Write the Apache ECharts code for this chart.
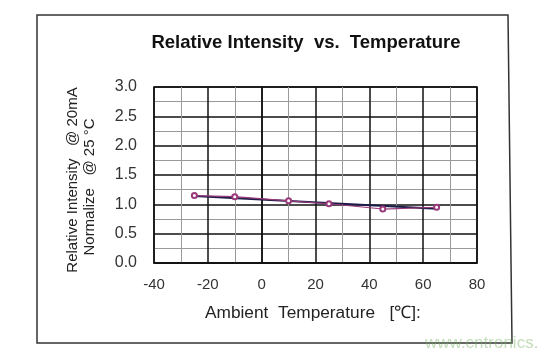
<!DOCTYPE html>
<html><head><meta charset="utf-8">
<script src="https://cdn.jsdelivr.net/npm/echarts@6/dist/echarts.min.js"></script>
<style>html,body{margin:0;padding:0;background:#fff}#c{width:538px;height:357px}</style>
</head><body><div id="c"></div>
<script>
const temperatures = [-25, -10, 10, 25, 45, 65];
const intensity = [1.15, 1.13, 1.06, 1.01, 0.92, 0.95];
const trendTemps = [-25, 65];
const trendValues = [1.14, 0.925];
const xTicks = [-40, -20, 0, 20, 40, 60, 80];
const yTicks = [0.0, 0.5, 1.0, 1.5, 2.0, 2.5, 3.0];

const chart = echarts.init(document.getElementById('c'));
const font = 'Liberation Sans, Arial, sans-serif';
chart.setOption({
  animation: false,
  backgroundColor: '#fff',
  title: {
    text: 'Relative Intensity  vs.  Temperature',
    left: 301, top: 28, textAlign: 'center',
    textStyle: { fontFamily: font, fontSize: 18.5, fontWeight: 'bold', color: '#111' }
  },
  grid: { left: 154, right: 61, top: 87, bottom: 94, show: true, borderColor: '#111', borderWidth: 1.5, backgroundColor: 'transparent' },
  xAxis: {
    type: 'value', min: xTicks[0], max: xTicks[xTicks.length - 1], interval: 20,
    axisLine: { show: true, lineStyle: { color: '#111', width: 1.5 } },
    axisTick: { show: false },
    axisLabel: { margin: 14, fontFamily: font, fontSize: 15, color: '#333', formatter: v => String(v) },
    splitLine: { show: true, lineStyle: { color: '#111', width: 1.5 } },
    minorTick: { show: false, splitNumber: 2 },
    minorSplitLine: { show: true, lineStyle: { color: '#999', width: 1 } }
  },
  yAxis: {
    type: 'value', min: yTicks[0], max: yTicks[yTicks.length - 1], interval: 0.5,
    axisLine: { show: true, lineStyle: { color: '#111', width: 1.5 } },
    axisTick: { show: false },
    axisLabel: { margin: 17, fontFamily: font, fontSize: 16, color: '#333', formatter: v => v.toFixed(1) },
    splitLine: { show: true, lineStyle: { color: '#111', width: 1.5 } },
    minorTick: { show: false, splitNumber: 2 },
    minorSplitLine: { show: true, lineStyle: { color: '#999', width: 1 } }
  },
  series: [
    {
      type: 'line', data: trendTemps.map((t, i) => [t, trendValues[i]]),
      symbol: 'none', lineStyle: { color: '#1c1c4a', width: 2 }, z: 3, silent: true
    },
    {
      type: 'line', data: temperatures.map((t, i) => [t, intensity[i]]),
      symbol: 'emptyCircle', symbolSize: 5,
      itemStyle: { color: '#9a3a7a', borderWidth: 1 },
      lineStyle: { color: '#9a3a7a', width: 1.2 }, z: 4
    }
  ],
  graphic: [
    { type: 'polygon', shape: { points: [[37, 15], [508, 15], [512, 343], [37, 343]] },
      style: { fill: 'none', stroke: '#333', lineWidth: 1.5 }, z: -1 },
    { type: 'text', x: 73, y: 180, rotation: Math.PI / 2, originX: 0, originY: 0,
      style: { text: 'Relative Intensity   @ 20mA', fontFamily: font, fontSize: 15, fill: '#222', align: 'center', verticalAlign: 'middle' } },
    { type: 'text', x: 90, y: 187, rotation: Math.PI / 2, originX: 0, originY: 0,
      style: { text: 'Normalize   @ 25 °C', fontFamily: font, fontSize: 15, fill: '#222', align: 'center', verticalAlign: 'middle' } },
    { type: 'text', x: 205, y: 313,
      style: { text: 'Ambient  Temperature   [℃]:', fontFamily: font, fontSize: 17.3, fill: '#222', align: 'left', verticalAlign: 'middle' } },
    { type: 'text', x: 425, y: 343,
      style: { text: 'www.cntronics.com', fontFamily: font, fontSize: 17, fill: 'rgba(120,180,100,0.45)', align: 'left', verticalAlign: 'middle' } }
  ]
});
</script></body></html>
